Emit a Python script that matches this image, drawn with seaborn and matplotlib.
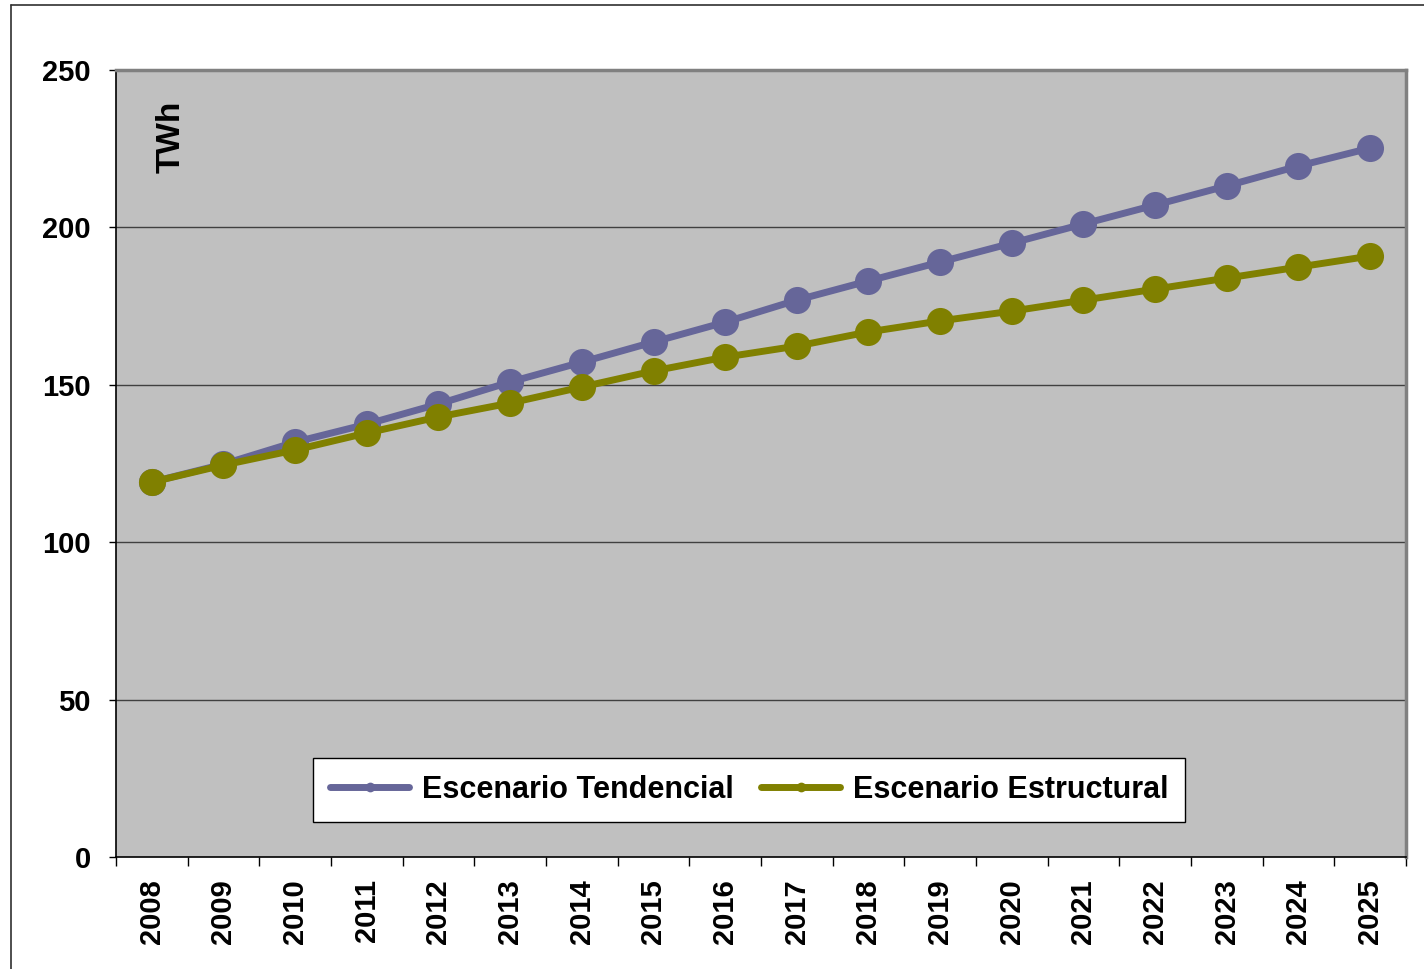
import numpy as np
import pandas as pd
import matplotlib
matplotlib.use("Agg")
import matplotlib.pyplot as plt
from matplotlib.lines import Line2D
import seaborn as sns

years = ["2008", "2009", "2010", "2011", "2012", "2013", "2014", "2015", "2016",
         "2017", "2018", "2019", "2020", "2021", "2022", "2023", "2024", "2025"]
tendencial = [119.1, 124.8, 131.8, 137.5, 143.9, 150.9, 157.2, 163.6, 169.9,
              176.9, 183.0, 189.0, 195.0, 201.1, 207.1, 213.2, 219.5, 225.2]
estructural = [119.1, 124.5, 129.3, 134.7, 139.8, 144.2, 149.3, 154.4, 158.8,
               162.3, 166.8, 170.3, 173.4, 176.9, 180.4, 183.9, 187.4, 190.9]
series_names = ["Escenario Tendencial", "Escenario Estructural"]
series_colors = ["#666699", "#808000"]
y_ticks = [0, 50, 100, 150, 200, 250]

sns.set_style("white")
plt.rcParams["font.family"] = ["Liberation Sans", "DejaVu Sans"]
plt.rcParams["font.weight"] = "bold"
plt.rcParams["text.color"] = "black"
plt.rcParams["xtick.color"] = "black"
plt.rcParams["ytick.color"] = "black"

df = pd.DataFrame({
    "pos": list(range(len(years))) * 2,
    "TWh": tendencial + estructural,
    "Escenario": [series_names[0]] * len(years) + [series_names[1]] * len(years),
})

fig = plt.figure(figsize=(14.24, 9.69), dpi=100)
ax = fig.add_axes([116 / 1424, 1 - 857 / 969, 1290 / 1424, 787 / 969])
ax.set_facecolor("#C0C0C0")

sns.lineplot(data=df, x="pos", y="TWh", hue="Escenario", hue_order=series_names,
             palette=series_colors, marker="o", markersize=19.5, markeredgewidth=0,
             linewidth=5, legend=False, ax=ax, zorder=3)

ax.set_xlim(-0.5, len(years) - 0.5)
ax.set_ylim(0, 250)
ax.set_yticks(y_ticks)
ax.set_yticklabels([str(v) for v in y_ticks], fontsize=21, fontweight="bold")
ax.tick_params(axis="y", left=True, direction="out", length=5, width=1,
               color="black", pad=13)

# category boundaries carry the tick marks, centers carry the labels
ax.set_xticks(np.arange(-0.5, len(years), 1.0))
ax.set_xticklabels([])
ax.set_xticks(np.arange(len(years)), minor=True)
ax.set_xticklabels(years, minor=True, rotation=90, fontsize=21, fontweight="bold")
ax.tick_params(axis="x", which="major", bottom=True, direction="out", length=6.5,
               width=1, color="black")
ax.tick_params(axis="x", which="minor", bottom=True, length=0, pad=16)

for v in y_ticks[1:-1]:
    ax.axhline(v, color="#404040", lw=1, zorder=1)

ax.set_xlabel("")
ax.set_ylabel("")
for side in ["left", "bottom"]:
    ax.spines[side].set_color("black")
    ax.spines[side].set_linewidth(1.2)
for side in ["top", "right"]:
    ax.spines[side].set_color("#808080")
    ax.spines[side].set_linewidth(2.5)

ax.text(0.0426, 0.915, "TWh", transform=ax.transAxes, rotation=90, fontsize=24,
        fontweight="bold", ha="center", va="center")

handles = [Line2D([0], [0], color=c, lw=5, marker="o", markersize=7, markeredgewidth=0)
           for c in series_colors]
leg = ax.legend(handles, series_names, loc="center", bbox_to_anchor=(0.4907, 0.0851),
                ncol=2, frameon=True, fancybox=False, framealpha=1, edgecolor="black",
                prop={"size": 22, "weight": "bold"}, handlelength=2.6,
                columnspacing=0.9, handletextpad=0.4, borderpad=0.55, borderaxespad=0)
leg.get_frame().set_linewidth(1)

# outer chart frame
fig.add_artist(Line2D([11 / 1424, 11 / 1424], [0, 1 - 5 / 969], color="#303030", lw=1.2,
                      transform=fig.transFigure))
fig.add_artist(Line2D([11 / 1424, 1], [1 - 5 / 969, 1 - 5 / 969], color="#303030", lw=1.2,
                      transform=fig.transFigure))

fig.savefig("out.png", dpi=100, facecolor="white")
